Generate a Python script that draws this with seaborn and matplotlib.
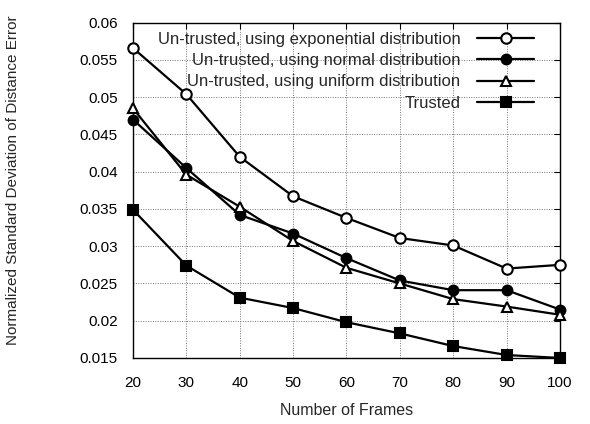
import pandas as pd
import seaborn as sns
import matplotlib.pyplot as plt

# data
frames = [20, 30, 40, 50, 60, 70, 80, 90, 100]
exp_err = [0.0566, 0.0504, 0.0420, 0.0367, 0.0338, 0.0311, 0.0301, 0.0270, 0.0275]
normal_err = [0.0470, 0.0405, 0.0342, 0.0317, 0.0284, 0.0254, 0.0241, 0.0241, 0.0215]
uniform_err = [0.0485, 0.0396, 0.0353, 0.0307, 0.0271, 0.0250, 0.0229, 0.0219, 0.0208]
trusted_err = [0.0349, 0.0274, 0.0231, 0.0217, 0.0198, 0.0183, 0.0166, 0.0154, 0.0150]

labels = ["Un-trusted, using exponential distribution",
          "Un-trusted, using normal distribution",
          "Un-trusted, using uniform distribution",
          "Trusted"]
yticks = [0.015, 0.02, 0.025, 0.03, 0.035, 0.04, 0.045, 0.05, 0.055, 0.06]
ytick_labels = ["0.015", "0.02", "0.025", "0.03", "0.035", "0.04", "0.045", "0.05", "0.055", "0.06"]

sns.set_style("white")
plt.rcParams['font.family'] = ['Liberation Sans', 'DejaVu Sans']

fig = plt.figure(figsize=(5.9, 4.24), dpi=100)
ax = fig.add_axes([0.2254, 0.1557, 0.7237, 0.7908])

styles = [("o", "white", 7.5), ("o", "black", 7.0), ("^", "white", 7.5), ("s", "black", 6.5)]
for vals, lab, (mk, fc, ms) in zip([exp_err, normal_err, uniform_err, trusted_err], labels, styles):
    df = pd.DataFrame({"Frames": frames, "Err": vals})
    sns.lineplot(data=df, x="Frames", y="Err", ax=ax, color="black", linewidth=1.6,
                 marker=mk, markersize=ms, markerfacecolor=fc, markeredgecolor="black",
                 markeredgewidth=1.5, label=lab, clip_on=False, zorder=3)

ax.set_xlim(20, 100)
ax.set_ylim(0.015, 0.06)
ax.set_xticks(frames)
ax.set_yticks(yticks)
ax.set_yticklabels(ytick_labels)
ax.grid(True, linestyle=(0, (1, 1.5)), color="#777777", linewidth=0.7)
ax.tick_params(direction="in", length=4, width=0.8, top=True, right=True,
               labelsize=11, colors="black")
ax.tick_params(axis="y", pad=11)
ax.tick_params(axis="x", pad=13)
for sp in ax.spines.values():
    sp.set_color("black")
    sp.set_linewidth(1.0)

ax.set_xlabel("Number of Frames", fontsize=11.5, labelpad=9)
ax.set_ylabel("Normalized Standard Deviation of Distance Error", fontsize=11)
ax.yaxis.set_label_coords(-0.265, 0.531)

leg = ax.legend(loc="upper right", bbox_to_anchor=(0.939, 0.972), markerfirst=False,
                frameon=False, fontsize=12, handlelength=3.4, handletextpad=1.0,
                labelspacing=0.37, borderpad=0, borderaxespad=0)
for col in leg._legend_handle_box.get_children():
    col.align = "right"

fig.savefig("out.png", dpi=100)
